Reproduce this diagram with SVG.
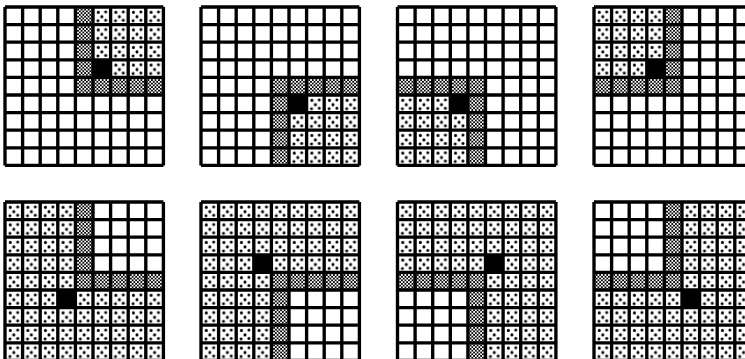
<svg xmlns="http://www.w3.org/2000/svg" xmlns:xlink="http://www.w3.org/1999/xlink" width="745" height="359" viewBox="0 0 745 359">
<style>
.dot{fill:url(#dots)}
.den{fill:url(#dense)}
.wht{fill:#fff}
.blk{fill:#000}
.ln{fill:none;stroke:#000;stroke-width:0.19}
</style>
<defs>
<pattern id="dots" patternUnits="userSpaceOnUse" width="1" height="1">
<rect width="1" height="1" fill="#fff"/>
<circle cx="0.3" cy="0.3" r="0.085" fill="#000"/>
<circle cx="0.72" cy="0.28" r="0.085" fill="#000"/>
<circle cx="0.5" cy="0.55" r="0.085" fill="#000"/>
<circle cx="0.28" cy="0.78" r="0.085" fill="#000"/>
<circle cx="0.72" cy="0.75" r="0.085" fill="#000"/>
</pattern>
<pattern id="dense" patternUnits="userSpaceOnUse" width="0.2" height="0.2">
<rect width="0.2" height="0.2" fill="#fff"/>
<rect x="0" y="0" width="0.1" height="0.1" fill="#000"/>
<rect x="0.1" y="0.1" width="0.1" height="0.1" fill="#000"/>
</pattern>
<path id="lines" class="ln" d="M0 0H9M0 1H9M0 2H9M0 3H9M0 4H9M0 5H9M0 6H9M0 7H9M0 8H9M0 9H9M0 0V9M1 0V9M2 0V9M3 0V9M4 0V9M5 0V9M6 0V9M7 0V9M8 0V9M9 0V9"/>
</defs>
<rect width="745" height="359" fill="#fff"/>

<g id="grid1" transform="translate(5,7) scale(17.6)">
<rect class="wht" width="9" height="9"/>
<rect class="dot" x="5" y="0" width="4" height="4"/>
<rect class="den" x="4" y="0" width="1" height="5"/>
<rect class="den" x="4" y="4" width="5" height="1"/>
<rect class="blk" x="5" y="3" width="1" height="1"/>
<use xlink:href="#lines"/>
</g>

<g id="grid2" transform="translate(201,7) scale(17.6)">
<rect class="wht" width="9" height="9"/>
<rect class="dot" x="5" y="5" width="4" height="4"/>
<rect class="den" x="4" y="4" width="5" height="1"/>
<rect class="den" x="4" y="4" width="1" height="5"/>
<rect class="blk" x="5" y="5" width="1" height="1"/>
<use xlink:href="#lines"/>
</g>

<g id="grid3" transform="translate(397.5,7) scale(17.6)">
<rect class="wht" width="9" height="9"/>
<rect class="dot" x="0" y="5" width="4" height="4"/>
<rect class="den" x="0" y="4" width="5" height="1"/>
<rect class="den" x="4" y="4" width="1" height="5"/>
<rect class="blk" x="3" y="5" width="1" height="1"/>
<use xlink:href="#lines"/>
</g>

<g id="grid4" transform="translate(594,7) scale(17.6)">
<rect class="wht" width="9" height="9"/>
<rect class="dot" x="0" y="0" width="4" height="4"/>
<rect class="den" x="4" y="0" width="1" height="5"/>
<rect class="den" x="0" y="4" width="5" height="1"/>
<rect class="blk" x="3" y="3" width="1" height="1"/>
<use xlink:href="#lines"/>
</g>

<g id="grid5" transform="translate(5,202) scale(17.6)">
<rect class="dot" width="9" height="9"/>
<rect class="wht" x="5" y="0" width="4" height="4"/>
<rect class="den" x="4" y="0" width="1" height="5"/>
<rect class="den" x="4" y="4" width="5" height="1"/>
<rect class="blk" x="3" y="5" width="1" height="1"/>
<use xlink:href="#lines"/>
</g>

<g id="grid6" transform="translate(201,202) scale(17.6)">
<rect class="dot" width="9" height="9"/>
<rect class="wht" x="5" y="5" width="4" height="4"/>
<rect class="den" x="4" y="4" width="5" height="1"/>
<rect class="den" x="4" y="4" width="1" height="5"/>
<rect class="blk" x="3" y="3" width="1" height="1"/>
<use xlink:href="#lines"/>
</g>

<g id="grid7" transform="translate(397.5,202) scale(17.6)">
<rect class="dot" width="9" height="9"/>
<rect class="wht" x="0" y="5" width="4" height="4"/>
<rect class="den" x="0" y="4" width="5" height="1"/>
<rect class="den" x="4" y="4" width="1" height="5"/>
<rect class="blk" x="5" y="3" width="1" height="1"/>
<use xlink:href="#lines"/>
</g>

<g id="grid8" transform="translate(594,202) scale(17.6)">
<rect class="dot" width="9" height="9"/>
<rect class="wht" x="0" y="0" width="4" height="4"/>
<rect class="den" x="4" y="0" width="1" height="5"/>
<rect class="den" x="0" y="4" width="5" height="1"/>
<rect class="blk" x="5" y="5" width="1" height="1"/>
<use xlink:href="#lines"/>
</g>

<g id="connectors"/>
</svg>
